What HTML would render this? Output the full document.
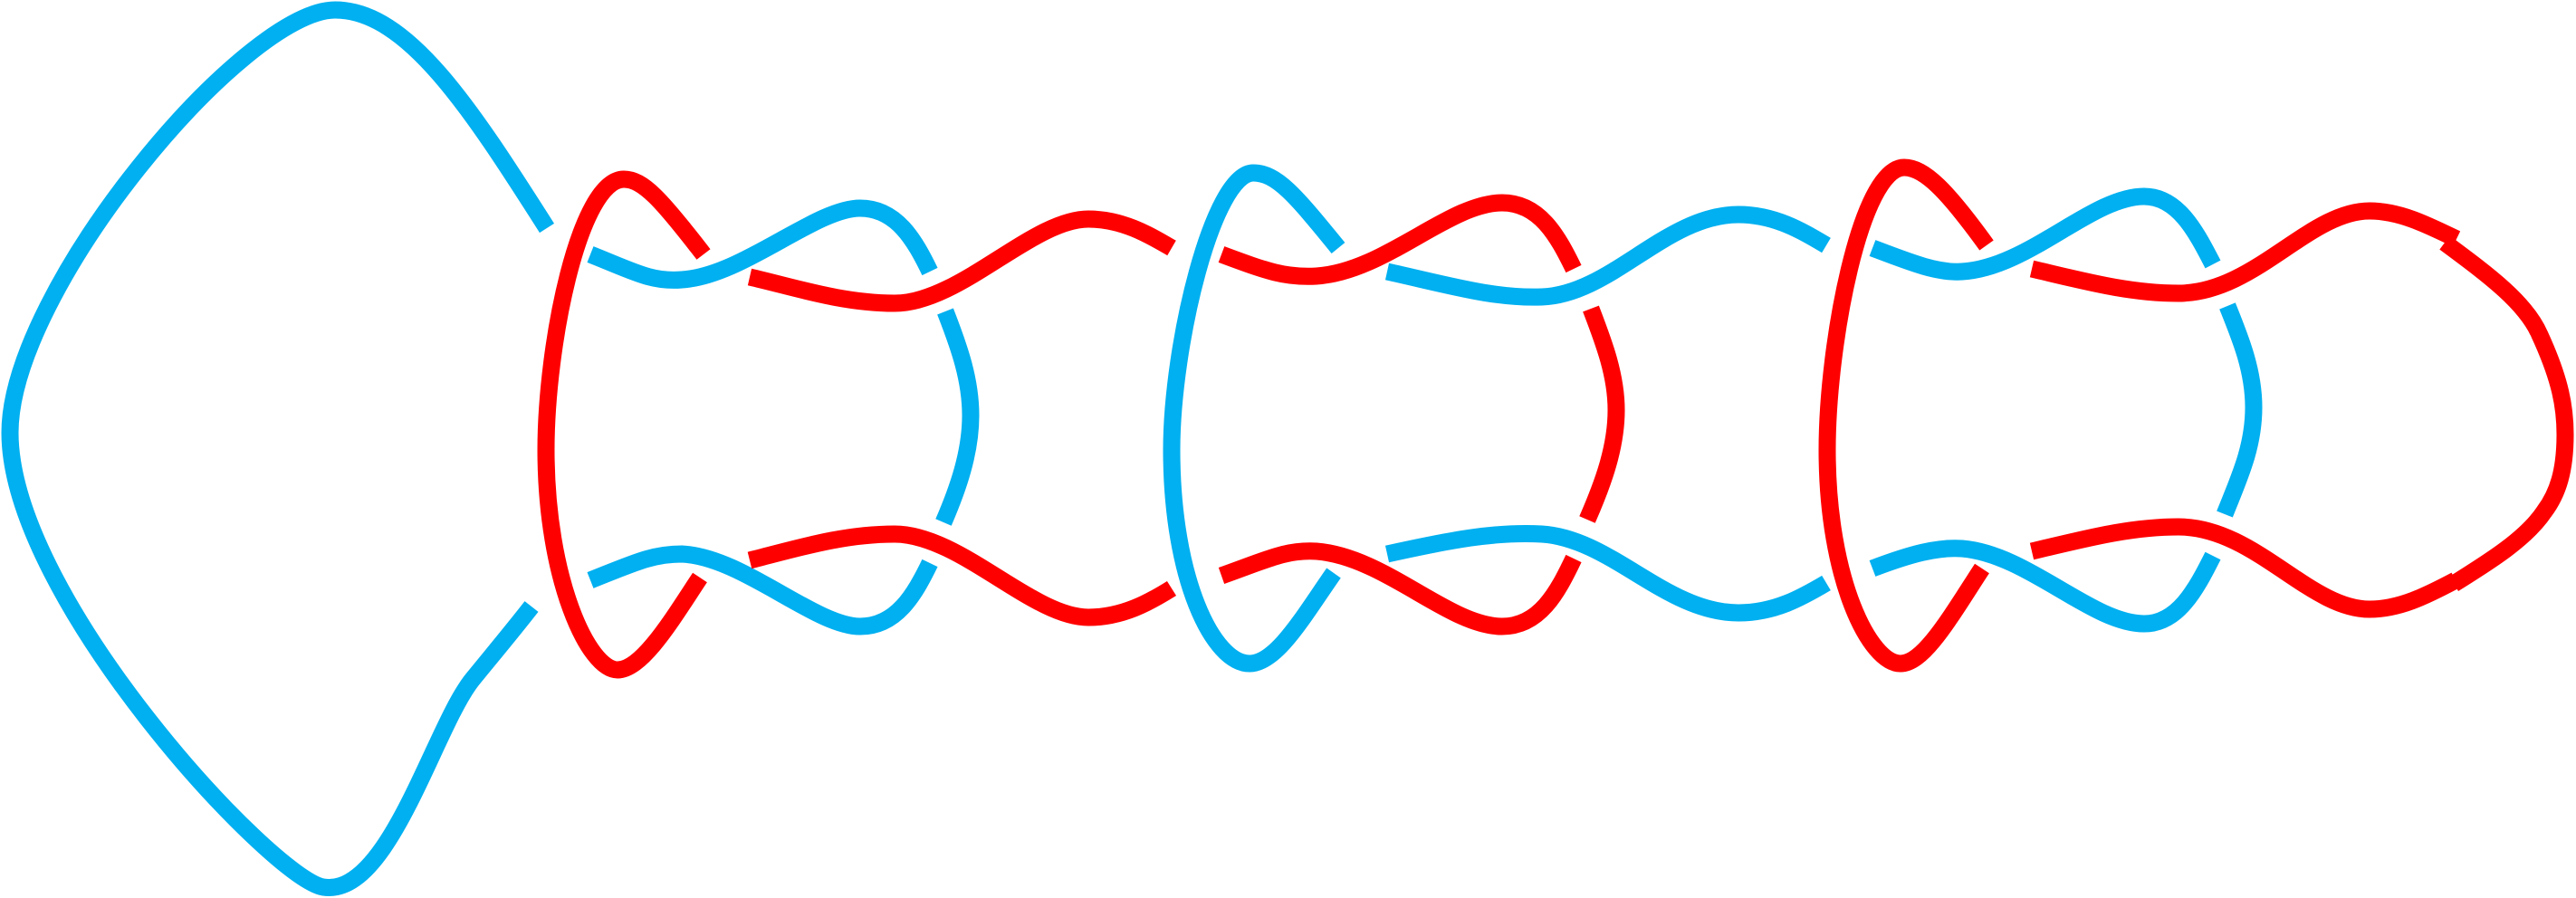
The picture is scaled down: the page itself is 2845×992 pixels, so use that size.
<!DOCTYPE html>
<html>
<head>
<meta charset="utf-8">
<style>
html,body{margin:0;padding:0;background:#fff;}
svg{display:block;}
path{fill:none;stroke-width:19;stroke-linecap:butt;}
.b{stroke:#00B0F0;}
.r{stroke:#FF0000;}
</style>
</head>
<body>
<svg width="2845" height="992" viewBox="0 0 2845 992">
  <path class="b" d="M604,252 C520,120 450,11 370,11 C270,11 11,320 11,478 C11,660 300,970 357,980 C430,992 480,800 523,749 C545,722 566,697 587,670"/>
  <path class="b" d="M652,281 C700,300 720,312 753,309 C820,305 900,230 950,230 C990,230 1010,265 1027,300"/>
  <path class="b" d="M652,641 C700,622 720,612 753,612 C820,615 900,692 950,692 C990,692 1010,657 1027,622"/>
  <path class="b" d="M1044,344 C1060,385 1072,420 1072,459 C1072,500 1058,540 1042,577"/>
  <path class="b" d="M1478,274 C1430,215 1410,191 1384,191 C1340,191 1294,380 1294,497 C1294,640 1340,733 1380,733 C1410,733 1440,680 1473,633"/>
  <path class="b" d="M1532,300 C1600,315 1650,330 1703,328 C1780,325 1840,237 1920,237 C1960,237 1990,255 2017,271"/>
  <path class="b" d="M1532,612 C1600,597 1650,587 1703,590 C1780,595 1840,677 1920,677 C1960,677 1990,660 2017,644"/>
  <path class="b" d="M2068,274 C2110,290 2140,302 2167,300 C2240,296 2310,217 2368,217 C2405,217 2425,255 2444,292"/>
  <path class="b" d="M2068,628 C2110,612 2140,604 2167,606 C2240,612 2310,689 2368,689 C2405,689 2425,652 2444,614"/>
  <path class="b" d="M2460,338 C2475,375 2489,410 2489,450 C2489,495 2472,530 2457,568"/>

  <path class="r" d="M777,281 C730,220 710,198 689,198 C640,198 603,380 603,497 C603,640 650,740 682,740 C710,740 745,680 773,638"/>
  <path class="r" d="M828,306 C880,318 930,335 988,335 C1060,335 1140,242 1202,242 C1240,242 1270,260 1294,274"/>
  <path class="r" d="M828,619 C880,606 930,590 988,590 C1060,590 1140,682 1202,682 C1240,682 1270,665 1294,650"/>
  <path class="r" d="M1349,281 C1400,300 1420,307 1454,305 C1530,300 1600,224 1659,224 C1700,224 1720,260 1738,297"/>
  <path class="r" d="M1349,636 C1400,618 1420,607 1454,609 C1530,615 1600,692 1659,692 C1700,692 1720,655 1738,617"/>
  <path class="r" d="M1757,341 C1772,380 1785,415 1785,453 C1785,495 1770,535 1753,574"/>
  <path class="r" d="M2194,271 C2150,210 2125,185 2103,185 C2055,185 2018,380 2018,497 C2018,640 2065,733 2099,733 C2125,733 2155,680 2189,628"/>
  <path class="r" d="M2244,297 C2300,310 2350,324 2406,324 C2490,324 2550,233 2617,233 C2650,233 2680,248 2713,264"/>
  <path class="r" d="M2244,609 C2300,596 2350,582 2406,582 C2490,582 2550,673 2617,673 C2650,673 2680,658 2712,641"/>
  <path class="r" d="M2700,268 C2750,305 2790,335 2805,370 C2828,420 2833,450 2833,480 C2833,520 2825,545 2810,565 C2790,595 2750,620 2710,645"/>
</svg>
</body>
</html>
